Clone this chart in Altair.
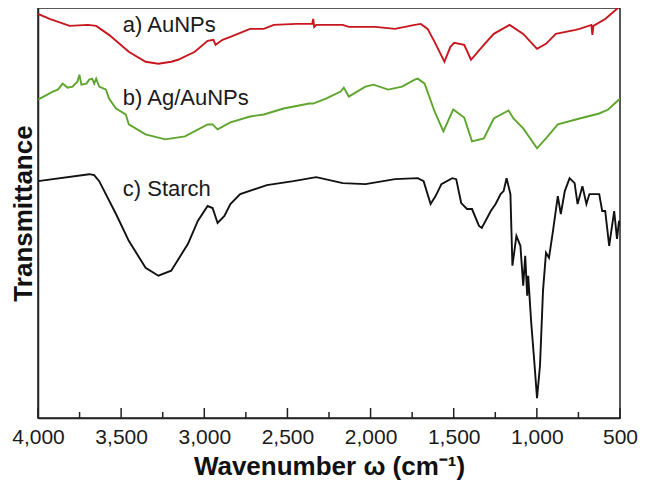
import altair as alt
import pandas as pd

# ---- data (wavenumber cm^-1, transmittance a.u.) ----
wn_a = [4000, 3930, 3810, 3700, 3650, 3573, 3454, 3353, 3276, 3199, 3158, 3057, 2980, 2945, 2932,
        2890, 2843, 2725, 2642, 2582, 2446, 2369, 2351, 2345, 2339, 2327, 2286, 2167, 2131, 1971,
        1853, 1734, 1698, 1657, 1615, 1556, 1520, 1497, 1437, 1396, 1319, 1259, 1164, 1082, 999,
        945, 886, 767, 743, 672, 666, 660, 589, 540, 506, 500]
t_a = [406, 401, 394, 395, 394, 385, 368, 358, 356, 358, 360, 368, 379, 380, 375,
       380, 383, 391, 391, 395, 396, 396, 396, 401, 393, 395, 395, 395, 393, 393,
       391, 395, 396, 391, 378, 358, 373, 377, 375, 360, 375, 386, 395, 386, 371,
       376, 386, 390, 391, 395, 385, 394, 401, 408, 413, 415]

wn_b = [4000, 3911, 3880, 3852, 3822, 3792, 3763, 3751, 3739, 3709, 3692, 3674, 3662, 3650, 3632,
        3591, 3573, 3531, 3472, 3454, 3353, 3235, 3116, 2980, 2950, 2920, 2843, 2725, 2642, 2523,
        2369, 2345, 2268, 2180, 2161, 2131, 2031, 1983, 1894, 1811, 1734, 1716, 1675, 1615, 1562,
        1503, 1437, 1390, 1319, 1259, 1170, 1141, 1082, 999, 945, 874, 743, 625, 571, 506, 500]
t_b = [320, 328, 330, 336, 332, 333, 338, 345, 335, 336, 340, 341, 336, 341, 333,
       330, 321, 311, 305, 295, 285, 280, 283, 295, 295, 290, 297, 303, 305, 311,
       316, 316, 321, 328, 332, 323, 333, 335, 330, 333, 340, 341, 336, 308, 288,
       310, 302, 278, 281, 301, 309, 301, 291, 271, 281, 295, 301, 306, 310, 320, 321]

wn_c = [4000, 3692, 3662, 3632, 3531, 3454, 3353, 3276, 3199, 3098, 3039, 2980, 2950, 2920, 2879,
        2843, 2784, 2624, 2464, 2327, 2167, 2031, 1853, 1716, 1681, 1639, 1609, 1574, 1509, 1485,
        1455, 1420, 1390, 1348, 1331, 1277, 1248, 1218, 1200, 1182, 1159, 1147, 1123, 1099, 1082,
        1070, 1058, 1052, 1034, 1016, 999, 981, 963, 945, 927, 903, 874, 856, 832, 803,
        773, 755, 726, 702, 684, 625, 607, 589, 565, 535, 518, 506, 500]
t_c = [238, 245, 244, 238, 205, 178, 151, 143, 148, 175, 198, 213, 211, 196, 203,
       215, 225, 234, 238, 242, 236, 235, 240, 241, 238, 215, 223, 235, 241, 240,
       216, 210, 210, 193, 191, 208, 215, 225, 228, 241, 225, 153, 183, 173, 133,
       163, 123, 143, 96, 58, 20, 53, 128, 166, 161, 188, 223, 205, 228, 241,
       236, 215, 233, 215, 225, 225, 208, 208, 173, 208, 180, 198, 193]

series_names = ["a) AuNPs", "b) Ag/AuNPs", "c) Starch"]
series_colors = ["#c8161e", "#5ea52e", "#111111"]

label_wn = [3490, 3490, 3490]
label_t = [395, 322, 230]

major_ticks = [4000, 3500, 3000, 2500, 2000, 1500, 1000, 500]
minor_ticks = [3750, 3250, 2750, 2250, 1750, 1250, 750]

# ---- tables ----
rows = []
for name, wn, t in zip(series_names, [wn_a, wn_b, wn_c], [t_a, t_b, t_c]):
    for i, (w, v) in enumerate(zip(wn, t)):
        rows.append({"series": name, "wn": w, "t": v, "idx": i})
df = pd.DataFrame(rows)
lab_df = pd.DataFrame({"wn": label_wn, "t": label_t, "text": series_names})
maj_df = pd.DataFrame({"wn": major_ticks})
min_df = pd.DataFrame({"wn": minor_ticks})

W, H = 582, 410
FONT = "Liberation Sans"

xscale = alt.Scale(domain=[4000, 500], nice=False, zero=False)
yscale = alt.Scale(domain=[0, 412], nice=False, zero=False)

lines = alt.Chart(df).mark_line(strokeWidth=1.9, clip=True).encode(
    x=alt.X("wn:Q", scale=xscale,
            axis=alt.Axis(values=major_ticks, format=",d", title="Wavenumber ω (cm⁻¹)",
                          ticks=False, grid=False, labelFontSize=21, labelFont=FONT,
                          labelColor="#1a1a1a", labelPadding=8, labelFlush=False,
                          labelOverlap=False, labelBound=False,
                          titleFont=FONT, titleFontSize=26, titleFontWeight="bold",
                          titleColor="#111111", titlePadding=6)),
    y=alt.Y("t:Q", scale=yscale,
            axis=alt.Axis(labels=False, ticks=False, grid=False, title="Transmittance",
                          titleFont=FONT, titleFontSize=26, titleFontWeight="bold",
                          titleColor="#111111", titlePadding=2)),
    color=alt.Color("series:N", scale=alt.Scale(domain=series_names, range=series_colors),
                    legend=None),
    order="idx:Q",
)

major = alt.Chart(maj_df).mark_rule(color="#222222", strokeWidth=1.5).encode(
    x=alt.X("wn:Q", scale=xscale), y=alt.value(H), y2=alt.value(H - 10))
minor = alt.Chart(min_df).mark_rule(color="#222222", strokeWidth=1.5).encode(
    x=alt.X("wn:Q", scale=xscale), y=alt.value(H), y2=alt.value(H - 6))

labels = alt.Chart(lab_df).mark_text(align="left", baseline="middle", fontSize=22,
                                     font=FONT, color="#1a1a1a").encode(
    x=alt.X("wn:Q", scale=xscale), y=alt.Y("t:Q", scale=yscale), text="text:N")

chart = alt.layer(lines, major, minor, labels).properties(
    width=W, height=H,
    autosize=alt.AutoSizeParams(type="none"),
    padding={"left": 30, "top": 0, "right": 18, "bottom": 63},
).configure_view(stroke="#222222", strokeWidth=1.5).configure_axis(
    domainColor="#222222", domainWidth=1.5)

chart.save("out.html", embed_options={"renderer": "svg", "actions": False})
